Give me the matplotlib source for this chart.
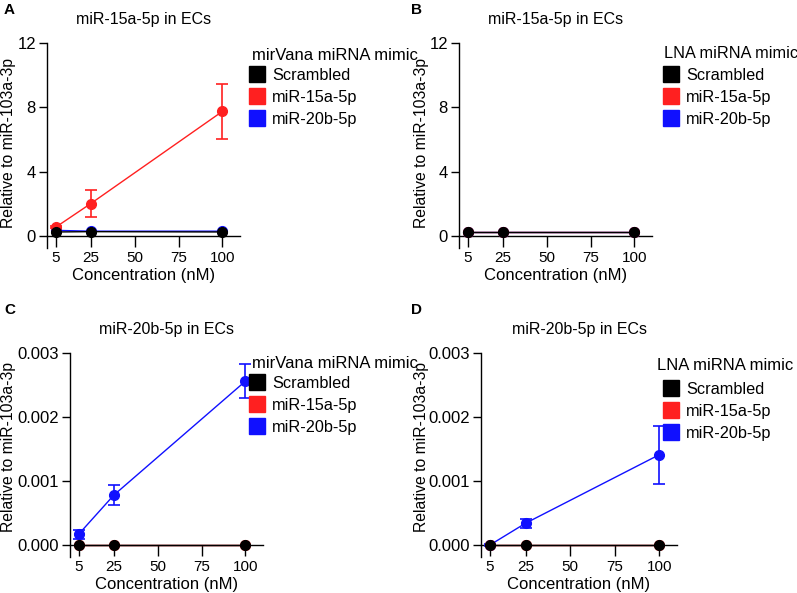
import matplotlib
matplotlib.use("Agg")
import matplotlib.pyplot as plt
from matplotlib.lines import Line2D

plt.rcParams['font.family'] = ['Liberation Sans', 'DejaVu Sans']

conc = [5, 25, 100]
series_names = ["Scrambled", "miR-15a-5p", "miR-20b-5p"]
series_colors = ["#000000", "#ff2020", "#1010ff"]

# panel A: miR-15a-5p level, mirVana mimic
a_scr = [0.25, 0.27, 0.25]
a_15a = [0.55, 2.02, 7.75]
a_15a_err = [0.05, 0.85, 1.7]
a_20b = [0.35, 0.30, 0.30]

# panel B: miR-15a-5p level, LNA mimic
b_scr = [0.27, 0.27, 0.27]
b_15a = [0.25, 0.25, 0.25]
b_20b = [0.25, 0.25, 0.25]

# panel C: miR-20b-5p level, mirVana mimic
c_scr = [0.0, 0.0, 0.0]
c_15a = [0.0, 0.0, 0.0]
c_20b = [0.00017, 0.00078, 0.00256]
c_20b_err = [0.00007, 0.00016, 0.00027]

# panel D: miR-20b-5p level, LNA mimic
d_scr = [0.0, 0.0, 0.0]
d_15a = [0.0, 0.0, 0.0]
d_20b = [0.0, 0.00034, 0.00141]
d_20b_err = [0.00001, 0.00007, 0.00045]

W, H = 797, 593
fig = plt.figure(figsize=(W / 100, H / 100), dpi=100)


def make_ax(left, right, top, zero, ymax, yticks, yticklabels):
    # y spine runs ~12 px below the x axis, like GraphPad
    below = 12
    bottom_px = zero + below
    ax = fig.add_axes([left / W, 1 - bottom_px / H, (right - left) / W, (bottom_px - top) / H])
    ymin = -ymax * below / (zero - top)
    ax.set_ylim(ymin, ymax)
    ax.set_xlim(0, 110)
    ax.spines['top'].set_visible(False)
    ax.spines['right'].set_visible(False)
    ax.spines['bottom'].set_position(('data', 0))
    ax.set_xticks([5, 25, 50, 75, 100])
    ax.set_yticks(yticks)
    ax.set_yticklabels(yticklabels)
    ax.tick_params(axis='x', length=8, width=1, labelsize=11, pad=3)
    ax.tick_params(axis='y', length=6, width=1, labelsize=12, pad=2)
    ax.set_xlabel("Concentration (nM)", fontsize=12, labelpad=2)
    for s in ax.spines.values():
        s.set_linewidth(1)
    return ax


def draw(ax, scr, s15, s20, e15=None, e20=None):
    kw = dict(marker='o', markersize=7, linewidth=1, capsize=4, elinewidth=1.2, capthick=1.2)
    ax.errorbar(conc, s20, yerr=e20, color=series_colors[2], zorder=3, **kw)
    ax.errorbar(conc, s15, yerr=e15, color=series_colors[1], zorder=4, **kw)
    ax.errorbar(conc, scr, color=series_colors[0], zorder=5, **kw)


def decorate(ax, title, ylab_x, ylab_y, leg_title, tx, ty, lx, ly, tsize=12):
    ax.set_title(title, fontsize=11.5, pad=14)
    ax.set_ylabel("Relative to miR-103a-3p", fontsize=11.3)
    ax.yaxis.set_label_coords(ylab_x / W, 1 - ylab_y / H, transform=fig.transFigure)
    fig.text(tx / W, 1 - ty / H, leg_title, fontsize=tsize, va='center', ha='left')
    handles = [Line2D([], [], linestyle='none', marker='s', markersize=12,
                      color=c) for c in series_colors]
    ax.legend(handles, series_names, loc='upper left',
              bbox_to_anchor=(lx / W, 1 - ly / H), bbox_transform=fig.transFigure,
              frameon=False, fontsize=11.7, handlelength=0.9,
              handletextpad=0.45, labelspacing=0.42, borderpad=0, borderaxespad=0)


axA = make_ax(47, 240, 43, 236, 12, [0, 4, 8, 12], ["0", "4", "8", "12"])
draw(axA, a_scr, a_15a, a_20b, e15=a_15a_err)
decorate(axA, "miR-15a-5p in ECs", 16, 143, "mirVana miRNA mimic", 252, 55, 250, 68)

axB = make_ax(459, 652, 43, 236, 12, [0, 4, 8, 12], ["0", "4", "8", "12"])
draw(axB, b_scr, b_15a, b_20b)
decorate(axB, "miR-15a-5p in ECs", 429, 143, "LNA miRNA mimic", 664, 53, 664, 68, tsize=11.7)

yt = [0, 0.001, 0.002, 0.003]
ytl = ["0.000", "0.001", "0.002", "0.003"]
axC = make_ax(70, 263, 353, 545, 0.003, yt, ytl)
draw(axC, c_scr, c_15a, c_20b, e20=c_20b_err)
decorate(axC, "miR-20b-5p in ECs", 16, 447, "mirVana miRNA mimic", 252, 363, 250, 376)

axD = make_ax(481, 677, 353, 545, 0.003, yt, ytl)
draw(axD, d_scr, d_15a, d_20b, e20=d_20b_err)
decorate(axD, "miR-20b-5p in ECs", 429, 447, "LNA miRNA mimic", 657, 365, 664, 382)

for letter, x, y in [("A", 4, 3), ("B", 411, 3), ("C", 4, 303), ("D", 411, 303)]:
    fig.text(x / W, 1 - y / H, letter, fontsize=11, fontweight='bold', va='top', ha='left')

fig.savefig("out.png", dpi=100)
